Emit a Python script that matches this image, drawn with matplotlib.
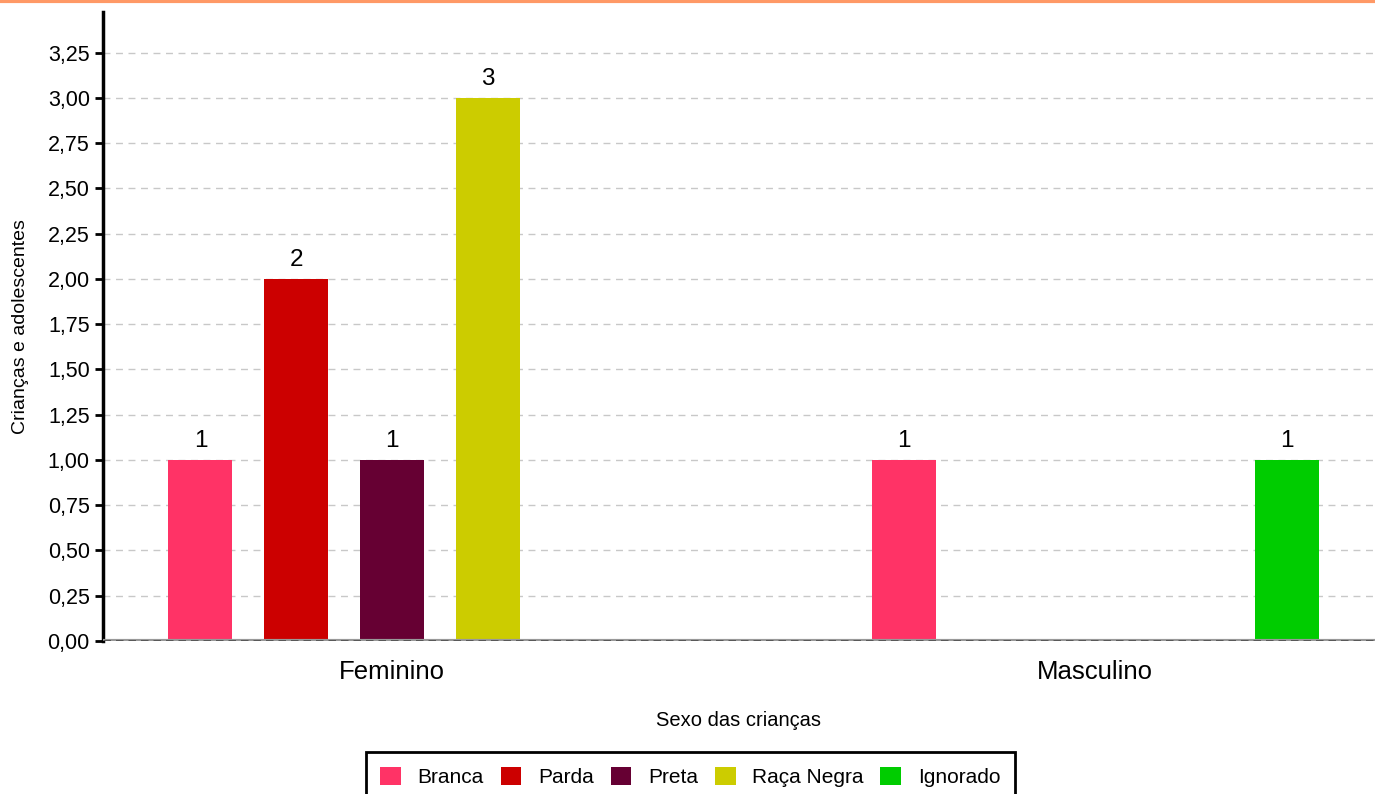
import matplotlib
matplotlib.use("Agg")
import matplotlib.pyplot as plt
from matplotlib.lines import Line2D
from matplotlib.patches import Patch
from matplotlib.ticker import FuncFormatter, MultipleLocator
import numpy as np

plt.rcParams['font.family'] = ['Liberation Sans', 'DejaVu Sans']

# data
groups = ["Feminino", "Masculino"]
series = ["Branca", "Parda", "Preta", "Raça Negra", "Ignorado"]
colors = ["#FF3366", "#CC0000", "#660033", "#CCCC00", "#00CC00"]
values = {
    "Branca": [1, 1],
    "Parda": [2, 0],
    "Preta": [1, 0],
    "Raça Negra": [3, 0],
    "Ignorado": [0, 1],
}

fig = plt.figure(figsize=(13.75, 7.94), dpi=100)
ax = fig.add_axes([0.0749, 0.1927, 0.9251, 0.7922])

# orange line at the top of the picture
fig.add_artist(Line2D([0, 1], [0.999, 0.999], transform=fig.transFigure,
                      color="#FF9966", lw=3))

x = np.arange(len(groups))
slot = 0.1362
bar_w = 0.091
for i, name in enumerate(series):
    xs = x + (i - 2) * slot
    for xi, v in zip(xs, values[name]):
        if v == 0:
            continue
        ax.bar(xi, v, width=bar_w, color=colors[i], zorder=3)
        ax.text(xi, v + 0.045, str(v), ha="center", va="bottom",
                fontsize=17.5, zorder=4)

ax.set_xlim(-0.411, 1.398)
ax.set_ylim(0, 3.475)
ax.yaxis.set_major_locator(MultipleLocator(0.25))
ax.yaxis.set_major_formatter(FuncFormatter(lambda v, p: f"{v:.2f}".replace(".", ",")))
ax.grid(axis="y", linestyle=(0, (5, 4)), color="#c8c8c8", lw=1, zorder=0)

# baseline
ax.axhline(0, color="#999999", lw=3, zorder=5)
ax.axhline(0, color="#444444", lw=1.8, linestyle=(0, (3, 2)), zorder=6)

for s in ["top", "right", "bottom"]:
    ax.spines[s].set_visible(False)
ax.spines["left"].set_linewidth(2.5)
ax.tick_params(axis="y", length=6, width=2, labelsize=15.5, direction="out")
ax.tick_params(axis="x", length=0, labelsize=18.5, pad=14)
ax.set_xticks(x)
ax.set_xticklabels(groups)

ax.set_xlabel("Sexo das crianças", fontsize=14.5, labelpad=19)
ax.set_ylabel("Crianças e adolescentes", fontsize=14, labelpad=13)

handles = [Patch(facecolor=c, edgecolor="none") for c in colors]
leg = fig.legend(handles, series, loc="upper center",
                 bbox_to_anchor=(0.502, 0.053), ncol=5, fontsize=15,
                 frameon=True, fancybox=False, framealpha=1,
                 handlelength=1.0, handleheight=1.0, handletextpad=0.8,
                 columnspacing=0.8, borderpad=0.7, borderaxespad=0)
leg.get_frame().set_edgecolor("black")
leg.get_frame().set_linewidth(2)

fig.savefig("out.png", dpi=100)
